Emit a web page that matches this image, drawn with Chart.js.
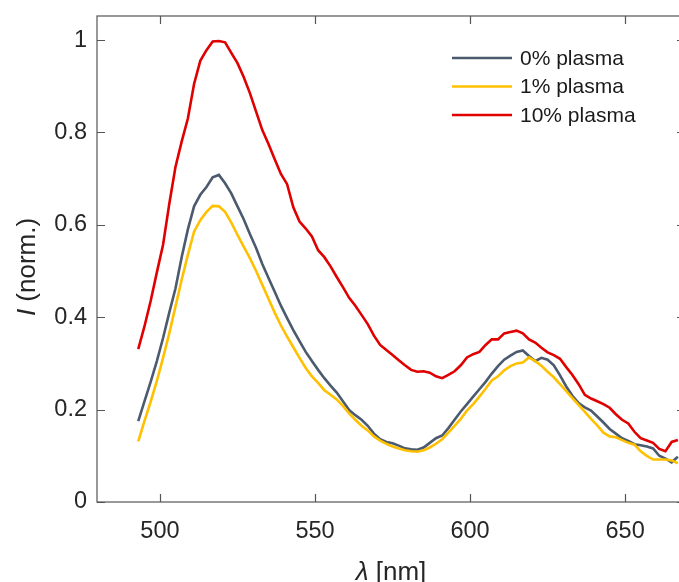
<!DOCTYPE html>
<html>
<head>
<meta charset="utf-8">
<script src="https://cdn.jsdelivr.net/npm/chart.js@4.4.0/dist/chart.umd.min.js"></script>
<style>
    html, body { margin: 0; padding: 0; background: #fff; overflow: hidden; width: 679px; height: 582px; }
    #wrap { width: 700px; height: 582px; }
</style>
</head>
<body>
<div id="wrap"><canvas id="myChart" width="700" height="582"></canvas></div>
<script>
var wavelengths = [493, 495, 497, 499, 501, 503, 505, 507, 509, 511,
    513, 515, 517, 519, 521, 523, 525, 527, 529, 531,
    533, 535, 537, 539, 541, 543, 545, 547, 549, 551,
    553, 555, 557, 559, 561, 563, 565, 567, 569, 571,
    573, 575, 577, 579, 581, 583, 585, 587, 589, 591,
    593, 595, 597, 599, 601, 603, 605, 607, 609, 611,
    613, 615, 617, 619, 621, 623, 625, 627, 629, 631,
    633, 635, 637, 639, 641, 643, 645, 647, 649, 651,
    653, 655, 657, 659, 661, 663, 665, 667];

var plasma0 = [0.175, 0.218, 0.260, 0.305, 0.355, 0.410, 0.462, 0.530, 0.590, 0.640,
    0.665, 0.682, 0.703, 0.708, 0.690, 0.668, 0.640, 0.612, 0.580, 0.550,
    0.515, 0.485, 0.455, 0.425, 0.398, 0.372, 0.348, 0.325, 0.305, 0.286,
    0.268, 0.252, 0.237, 0.218, 0.199, 0.188, 0.178, 0.165, 0.148, 0.136,
    0.130, 0.127, 0.122, 0.116, 0.114, 0.113, 0.118, 0.128, 0.138, 0.144,
    0.160, 0.178, 0.196, 0.212, 0.228, 0.244, 0.260, 0.278, 0.294, 0.308,
    0.317, 0.325, 0.328, 0.316, 0.305, 0.312, 0.308, 0.296, 0.274, 0.250,
    0.230, 0.214, 0.205, 0.198, 0.185, 0.172, 0.158, 0.148, 0.138, 0.132,
    0.125, 0.123, 0.120, 0.116, 0.100, 0.094, 0.086, 0.098];

var plasma1 = [0.131, 0.175, 0.217, 0.262, 0.312, 0.365, 0.423, 0.481, 0.535, 0.585,
    0.610, 0.628, 0.641, 0.640, 0.628, 0.605, 0.578, 0.553, 0.528, 0.500,
    0.470, 0.440, 0.410, 0.382, 0.358, 0.335, 0.312, 0.290, 0.272, 0.258,
    0.242, 0.232, 0.222, 0.208, 0.192, 0.178, 0.165, 0.155, 0.142, 0.133,
    0.126, 0.120, 0.116, 0.112, 0.110, 0.109, 0.112, 0.118, 0.126, 0.136,
    0.150, 0.165, 0.180, 0.198, 0.212, 0.228, 0.245, 0.263, 0.272, 0.285,
    0.294, 0.300, 0.302, 0.313, 0.305, 0.295, 0.282, 0.270, 0.255, 0.240,
    0.225, 0.210, 0.195, 0.180, 0.166, 0.150, 0.142, 0.140, 0.134, 0.128,
    0.124, 0.110, 0.100, 0.092, 0.092, 0.092, 0.090, 0.084];

var plasma10 = [0.331, 0.380, 0.435, 0.497, 0.557, 0.645, 0.725, 0.780, 0.830, 0.905,
    0.955, 0.978, 0.997, 0.998, 0.995, 0.972, 0.950, 0.920, 0.885, 0.845,
    0.805, 0.775, 0.742, 0.710, 0.688, 0.638, 0.607, 0.592, 0.575, 0.545,
    0.530, 0.510, 0.487, 0.465, 0.442, 0.425, 0.405, 0.385, 0.360, 0.340,
    0.329, 0.318, 0.307, 0.296, 0.286, 0.282, 0.283, 0.280, 0.272, 0.268,
    0.275, 0.283, 0.296, 0.313, 0.320, 0.325, 0.340, 0.352, 0.352, 0.365,
    0.368, 0.371, 0.365, 0.352, 0.345, 0.334, 0.324, 0.318, 0.310, 0.292,
    0.275, 0.255, 0.232, 0.224, 0.218, 0.212, 0.204, 0.190, 0.178, 0.170,
    0.152, 0.138, 0.133, 0.128, 0.115, 0.110, 0.130, 0.134];

var seriesNames = ['0% plasma', '1% plasma', '10% plasma'];
var seriesColors = ['#4b5a6e', '#ffc000', '#e00000'];
var xTicks = [500, 550, 600, 650];
var yTicks = [0, 0.2, 0.4, 0.6, 0.8, 1];

var fontFamily = '"Liberation Sans", Arial, Helvetica, sans-serif';

function points(values) {
    return values.map(function (v, i) { return { x: wavelengths[i], y: v }; });
}

var allSeries = [plasma0, plasma1, plasma10];
var datasets = [];
for (var i = 0; i < allSeries.length; i++) {
    datasets.push({
        label: seriesNames[i],
        data: points(allSeries[i]),
        borderColor: seriesColors[i],
        backgroundColor: seriesColors[i],
        borderWidth: 2.6,
        pointRadius: 0,
        tension: 0,
        fill: false,
        order: allSeries.length - 1 - i
    });
}

// box, inward ticks, legend and axis titles (MATLAB look)
var framePlugin = {
    id: 'frame',
    afterDatasetsDraw: function (chart) {
        var ctx = chart.ctx;
        var a = chart.chartArea;
        var xs = chart.scales.x;
        var ys = chart.scales.y;
        var tick = 8;
        ctx.save();
        ctx.strokeStyle = '#555';
        ctx.lineWidth = 1.2;
        ctx.strokeRect(a.left, a.top, a.right - a.left, a.bottom - a.top);
        ctx.beginPath();
        xTicks.forEach(function (v) {
            var px = Math.round(xs.getPixelForValue(v)) + 0.5;
            ctx.moveTo(px, a.bottom); ctx.lineTo(px, a.bottom - tick);
            ctx.moveTo(px, a.top); ctx.lineTo(px, a.top + tick);
        });
        yTicks.forEach(function (v) {
            var py = Math.round(ys.getPixelForValue(v)) + 0.5;
            ctx.moveTo(a.left, py); ctx.lineTo(a.left + tick, py);
            ctx.moveTo(a.right, py); ctx.lineTo(a.right - tick, py);
        });
        ctx.stroke();

        // legend
        var lx = a.right - 233;
        var ly = a.top + 42;
        ctx.font = '21px ' + fontFamily;
        ctx.textBaseline = 'middle';
        ctx.textAlign = 'left';
        for (var i = 0; i < seriesNames.length; i++) {
            var yy = ly + i * 28.5;
            ctx.strokeStyle = seriesColors[i];
            ctx.lineWidth = 2.6;
            ctx.beginPath();
            ctx.moveTo(lx, yy); ctx.lineTo(lx + 60, yy);
            ctx.stroke();
            ctx.fillStyle = '#1a1a1a';
            ctx.fillText(seriesNames[i], lx + 68, yy + 1);
        }

        // x title
        ctx.fillStyle = '#262626';
        ctx.textBaseline = 'alphabetic';
        var it = 'italic 26px ' + fontFamily, rg = '26px ' + fontFamily;
        ctx.font = it; var w1 = ctx.measureText('\u03bb').width;
        ctx.font = rg; var w2 = ctx.measureText(' [nm]').width;
        var cx = (a.left + a.right) / 2 - (w1 + w2) / 2;
        ctx.font = it; ctx.fillText('\u03bb', cx, 580);
        ctx.font = rg; ctx.fillText(' [nm]', cx + w1, 580);

        // y title
        ctx.translate(28, (a.top + a.bottom) / 2 + 8);
        ctx.rotate(-Math.PI / 2);
        ctx.textBaseline = 'middle';
        ctx.font = it; var w3 = ctx.measureText('I').width;
        ctx.font = rg; var w4 = ctx.measureText(' (norm.)').width;
        var sx = -(w3 + w4) / 2;
        ctx.font = it; ctx.fillText('I', sx, 0);
        ctx.font = rg; ctx.fillText(' (norm.)', sx + w3, 0);
        ctx.restore();
    }
};

function fmt(v) {
    return String(Math.round(v * 10) / 10);
}

new Chart('myChart', {
    type: 'line',
    data: { datasets: datasets },
    plugins: [framePlugin],
    options: {
        responsive: false,
        animation: false,
        layout: { padding: { top: 16, right: 15, left: 0, bottom: 0 } },
        plugins: {
            legend: { display: false },
            tooltip: { enabled: false }
        },
        scales: {
            x: {
                type: 'linear',
                min: 479.7,
                max: 669.3,
                grid: { display: false, drawTicks: false },
                border: { display: false },
                afterBuildTicks: function (s) { s.ticks = xTicks.map(function (v) { return { value: v }; }); },
                afterFit: function (s) { s.height = 80; s.paddingLeft = 0; s.paddingRight = 0; },
                ticks: {
                    padding: 15,
                    maxRotation: 0,
                    color: '#262626',
                    font: { family: fontFamily, size: 23.5 },
                    callback: function (v) { return String(v); }
                }
            },
            y: {
                min: 0,
                max: 1.052,
                grid: { display: false, drawTicks: false },
                border: { display: false },
                afterBuildTicks: function (s) { s.ticks = yTicks.map(function (v) { return { value: v }; }); },
                afterFit: function (s) { s.width = 97; s.paddingTop = 0; s.paddingBottom = 0; },
                ticks: {
                    padding: 10,
                    color: '#262626',
                    font: { family: fontFamily, size: 23.5 },
                    callback: function (v) { return fmt(v); }
                }
            }
        }
    }
});
</script>
</body>
</html>
